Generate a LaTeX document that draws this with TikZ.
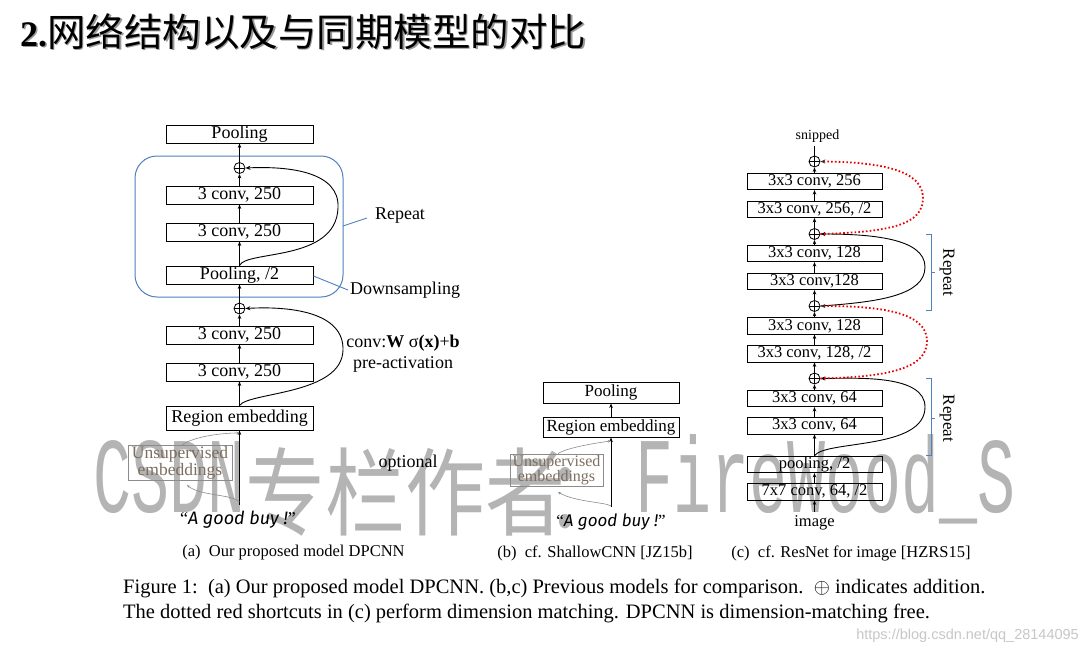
\documentclass[tikz,border=0pt]{standalone}
\usepackage{fontspec}
\setmainfont{Liberation Serif}
\newfontfamily\cjkf{Noto Sans CJK SC}
\newfontfamily\monof{Liberation Mono}
\newfontfamily\comicf{Fira Sans}
\newfontfamily\sansf{Liberation Sans}
\usetikzlibrary{arrows.meta,calc}
\newcommand\fsz[1]{\fontsize{#1}{#1}\selectfont}
\definecolor{boxblue}{RGB}{79,129,189}
\definecolor{wmgray}{RGB}{180,180,180}
\definecolor{unsupcol}{RGB}{125,110,95}
\definecolor{dotred}{RGB}{235,0,0}
\begin{document}
\begin{tikzpicture}[x=1pt,y=-1pt,
  blk/.style={draw,line width=0.9pt,inner sep=0pt,font=\fsz{18}},
  abox/.style={blk,minimum width=147pt,minimum height=18pt},
  cbox/.style={blk,minimum width=135pt,minimum height=16.5pt,font=\fsz{16.5}},
  plusnode/.style={circle,draw,line width=0.8pt,minimum size=11pt,inner sep=0pt,
    path picture={\draw[line width=0.7pt] (path picture bounding box.north) -- (path picture bounding box.south)
      (path picture bounding box.west) -- (path picture bounding box.east);}},
  arr/.style={-{Stealth[length=4.5pt,width=3.5pt]},line width=0.8pt},
  skip/.style={-{Stealth[length=5pt,width=4pt]},line width=0.9pt},
  redskip/.style={-{Stealth[length=5pt,width=4pt,black!80]},line width=1.8pt,dotred,dash pattern=on 1.6pt off 2.2pt},
  gcurve/.style={-{Stealth[length=3pt,width=2.5pt]},line width=0.6pt,black!45},
  unsupbox/.style={draw=black!45,line width=0.7pt,text=unsupcol,align=center,inner sep=1pt},
  label/.style={font=\fsz{18}},
  capt/.style={font=\fsz{16.5}},
  bracket/.style={boxblue,line width=1pt},
  wm/.style={text=wmgray},
]
\useasboundingbox (0,0) rectangle (1089,656);
\fill[white] (0,0) rectangle (1089,656);

% ---------- watermark ----------
\node[wm,anchor=base west,font=\monof\fsz{63.3},yscale=1.7,inner sep=0pt] (wm1) at (93,512) {CSDN};
\node[wm,anchor=base west,font=\cjkf\fsz{80},yscale=1.2,inner sep=0pt] (wm2) at (245,528) {专栏作者};
\node[wm,anchor=base,font=\cjkf\fsz{80},yscale=1.2,inner sep=0pt] (wm3) at (585,528) {：};
\node[wm,anchor=base west,font=\monof\fsz{63.3},yscale=1.7,inner sep=0pt] (wm4) at (635,512) {FireWood\_S};
\node[text=black!22,anchor=east,font=\sansf\fsz{14.5},inner sep=0pt] (url) at (1079,636) {https://blog.csdn.net/qq\_28144095};

% ---------- title ----------
\node[anchor=base west,inner sep=0pt,text=black!40] (titleshadow) at (21.5,47.5) {\fsz{36}\textbf{2.}\cjkf\fsz{38.5}网络结构以及与同期模型的对比};
\node[anchor=base west,inner sep=0pt] (title) at (20,46) {\fsz{36}\textbf{2.}\cjkf\fsz{38.5}网络结构以及与同期模型的对比};

% ---------- (a) DPCNN ----------
\draw[boxblue,line width=1pt,rounded corners=22pt] (135,156) rectangle (343,297);
\node[abox] (poolA) at (239.5,134) {Pooling};
\node[plusnode] (plusA2) at (239.5,168) {};
\node[abox] (convA4) at (239.5,195) {3 conv, 250};
\node[abox] (convA3) at (239.5,232) {3 conv, 250};
\node[abox] (poolhalf) at (239.5,275) {Pooling, /2};
\node[plusnode] (plusA1) at (239.5,308.5) {};
\node[abox] (convA2) at (239.5,335) {3 conv, 250};
\node[abox] (convA1) at (239.5,372) {3 conv, 250};
\node[abox,minimum height=24pt] (regionA) at (239.5,418) {Region embedding};
\node[unsupbox,minimum width=104pt,minimum height=26pt,font=\fontsize{17.5}{13}\selectfont] (unsupA) at (180,463) {Unsupervised\\embeddings};
\node[inner sep=0pt] (goodA) at (238,520) {\fsz{18}“{\comicf\itshape A good buy !}”};
\coordinate (srcA) at (239.5,505);
\coordinate (gA1) at (239.5,433);
\coordinate (gA2) at (239.5,502);
\coordinate (gA3) at (187,485);

\draw[arr] (poolhalf.north) -- (convA3.south);
\draw[arr] (convA3.north) -- (convA4.south);
\draw[arr] (convA4.north) -- (plusA2.south);
\draw[arr] (plusA2.north) -- (poolA.south);
\draw[arr] (plusA1.north) -- (poolhalf.south);
\draw[arr] (convA2.north) -- (plusA1.south);
\draw[arr] (convA1.north) -- (convA2.south);
\draw[arr] (regionA.north) -- (convA1.south);
\draw[arr] (srcA) -- (regionA.south);
\draw[skip] (poolhalf.north) .. controls (246,250) and (336,262) .. (338,208) .. controls (340,172) and (290,166) .. (plusA2.east);
\draw[skip] (regionA.north) .. controls (248,392) and (342,395) .. (343,350) .. controls (344,312) and (290,306) .. (plusA1.east);
\draw[gcurve] ([xshift=2pt]unsupA.north) .. controls (192,437) and (220,433) .. (gA1);
\draw[gcurve] (gA2) .. controls (232,494) and (200,496) .. (gA3);

\draw[boxblue,line width=0.9pt] (343,226) -- (367,218);
\draw[boxblue,line width=0.9pt] (poolhalf.east) ++(0,1) -- (348,290);
\node[label] (repeatA) at (400,216) {Repeat};
\node[label] (downs) at (405,290) {Downsampling};
\node[label] (convlab) at (403,343) {conv:\textbf{W} σ\textbf{(x)}+\textbf{b}};
\node[label] (preact) at (403,364) {pre-activation};
\node[label] (optl) at (408,463) {optional};

% ---------- (b) ShallowCNN ----------
\node[blk,minimum width=136pt,minimum height=21pt,font=\fsz{17}] (poolB) at (611,392.5) {Pooling};
\node[blk,minimum width=136pt,minimum height=20pt,font=\fsz{17}] (regionB) at (611,427) {Region embedding};
\node[unsupbox,minimum width=93pt,minimum height=30pt,font=\fontsize{16}{13}\selectfont] (unsupB) at (556.5,470) {Unsupervised\\embeddings};
\node[inner sep=0pt] (goodB) at (611,522) {\fsz{17}“{\comicf\itshape A good buy !}”};
\coordinate (srcB) at (611,507);
\coordinate (gB1) at (611,441);
\coordinate (gB2) at (611,506);
\coordinate (gB3) at (558,492);
\draw[arr] (regionB.north) -- (poolB.south);
\draw[arr] (srcB) -- (regionB.south);
\draw[gcurve] ([xshift=1.5pt]unsupB.north) .. controls (566,448) and (595,443) .. (gB1);
\draw[gcurve] (gB2) .. controls (605,502) and (575,502) .. (gB3);

% ---------- (c) ResNet ----------
\node[font=\fsz{14}] (snip) at (817.5,136) {snipped};
\node[plusnode] (plusC4) at (814.5,161.5) {};
\node[cbox] (c256b) at (814.5,181.3) {3x3 conv, 256};
\node[cbox] (c256a) at (814.5,209.2) {3x3 conv, 256, /2};
\node[plusnode] (plusC3) at (814.5,234) {};
\node[cbox] (c128d) at (814.5,253.3) {3x3 conv, 128};
\node[cbox] (c128c) at (814.5,281.3) {3x3 conv,128};
\node[plusnode] (plusC2) at (814.5,306) {};
\node[cbox] (c128b) at (814.5,325.8) {3x3 conv, 128};
\node[cbox] (c128a) at (814.5,353.7) {3x3 conv, 128, /2};
\node[plusnode] (plusC1) at (814.5,378.5) {};
\node[cbox] (c64b) at (814.5,398.3) {3x3 conv, 64};
\node[cbox] (c64a) at (814.5,425.7) {3x3 conv, 64};
\node[cbox] (poolC) at (814.5,464.3) {pooling, /2};
\node[cbox] (c7) at (814.5,491.7) {7x7 conv, 64, /2};
\node[font=\fsz{16.5}] (img) at (814.5,523) {image};

\draw[arr] (img.north) -- (c7.south);
\draw[arr] (c7.north) -- (poolC.south);
\draw[arr] (poolC.north) -- (c64a.south);
\draw[arr] (c64a.north) -- (c64b.south);
\draw[arr] (c64b.north) -- (plusC1.south);
\draw[arr] (plusC1.north) -- (c128a.south);
\draw[arr] (c128a.north) -- (c128b.south);
\draw[arr] (c128b.north) -- (plusC2.south);
\draw[arr] (plusC2.north) -- (c128c.south);
\draw[arr] (c128c.north) -- (c128d.south);
\draw[arr] (c128d.north) -- (plusC3.south);
\draw[arr] (plusC3.north) -- (c256a.south);
\draw[arr] (c256a.north) -- (c256b.south);
\draw[arr] (c256b.north) -- (plusC4.south);
\draw[line width=0.8pt] (plusC4.north) -- (plusC4.north |- snip.south);

\draw[skip] (poolC.north) .. controls (826,440) and (925,450) .. (925,407) .. controls (925,375) and (860,378) .. (plusC1.east);
\draw[skip] (plusC2.east) .. controls (880,302) and (925,295) .. (925,267) .. controls (925,238) and (870,234) .. (plusC3.east);
\draw[redskip] (plusC1.east) .. controls (890,377) and (927,368) .. (927,341) .. controls (927,312) and (880,306) .. (plusC2.east);
\draw[redskip] (plusC3.east) .. controls (890,232) and (923,225) .. (923,198) .. controls (923,170) and (880,162) .. (plusC4.east);

\draw[bracket] (926,234) -- (931,234) -- (931,310.7) -- (926,310.7);
\draw[bracket] (931,272.5) -- (935,272.5);
\draw[bracket] (926,378.3) -- (931,378.3) -- (931,455) -- (926,455);
\draw[bracket] (931,418.3) -- (935,418.3);
\node[font=\fsz{17},rotate=-90] (repC1) at (947,272.5) {Repeat};
\node[font=\fsz{17},rotate=-90] (repC2) at (947,418.3) {Repeat};

% ---------- captions ----------
\node[capt] (capa) at (293.5,553) {(a)\ \ Our proposed model DPCNN};
\node[capt] (capb) at (595,553) {(b)\ \ cf. ShallowCNN [JZ15b]};
\node[capt] (capc) at (851,553) {(c)\ \ cf. ResNet for image [HZRS15]};
\node[anchor=west,inner sep=0pt,font=\fsz{20.5}] (fig1) at (123,588) {Figure 1:\ \ (a) Our proposed model DPCNN. (b,c) Previous models for comparison.\ \ $\oplus$ indicates addition.};
\node[anchor=west,inner sep=0pt,font=\fsz{20.5}] (fig2) at (123,613) {The dotted red shortcuts in (c) perform dimension matching. DPCNN is dimension-matching free.};
\end{tikzpicture}
\end{document}
